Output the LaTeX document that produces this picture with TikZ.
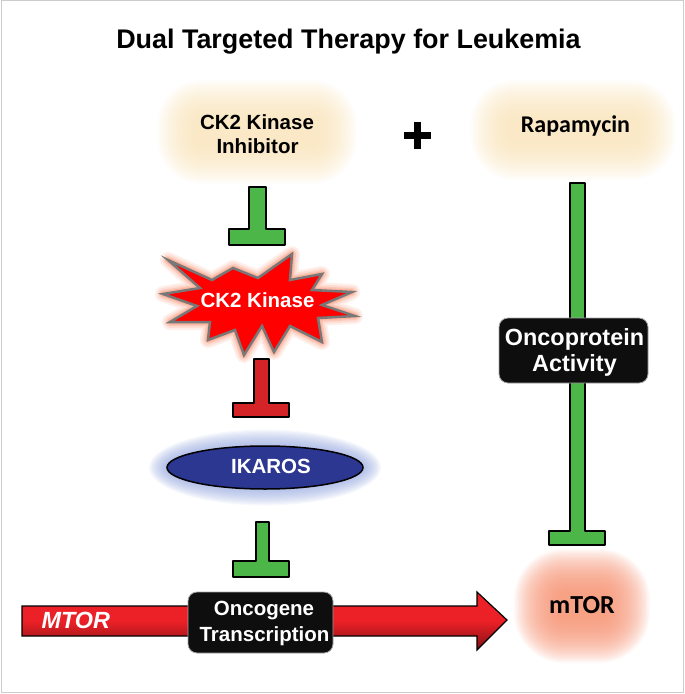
\documentclass[tikz,border=0pt]{standalone}
\usepackage{fontspec}
\setmainfont{Liberation Sans}
\newfontfamily\calib{Carlito}
\usetikzlibrary{shapes.geometric}
\definecolor{tgreen}{RGB}{76,183,72}
\definecolor{tred}{RGB}{213,36,40}
\definecolor{starred}{RGB}{255,0,0}
\definecolor{stargray}{RGB}{120,120,120}
\definecolor{starglow}{RGB}{248,150,120}
\definecolor{ikblue}{RGB}{44,55,145}
\definecolor{ikglow}{RGB}{140,160,220}
\definecolor{beige}{RGB}{249,226,182}
\definecolor{salmon}{RGB}{246,146,114}
\definecolor{arrowred}{RGB}{236,32,39}
\definecolor{boxblack}{RGB}{14,14,14}
% soft glow: cx, cy, halfw, halfh, colour, layers, step, corner radius
\newcommand\glowbox[8]{%
  \foreach \k in {0,...,#6}{%
    \pgfmathsetmacro\gw{#3-\k*#7}%
    \pgfmathsetmacro\gh{#4-\k*#7}%
    \pgfmathsetmacro\gr{max(2,#8-\k*#7)}%
    \fill[#5, fill opacity=0.055, rounded corners=\gr pt] (#1-\gw,#2-\gh) rectangle (#1+\gw,#2+\gh);
  }}
\newcommand\tshape[8]{%
  \filldraw[fill=#8, draw=black, line width=1.2pt, line join=round]
    (#1,#3) -- (#2,#3) -- (#2,#4) -- (#6,#4) -- (#6,#7) -- (#5,#7) -- (#5,#4) -- (#1,#4) -- cycle;}
\tikzset{
  lbl/.style={anchor=base, font=\bfseries\fontsize{20.5}{24}\selectfont},
  wlbl/.style={lbl, text=white},
  blackbox/.style={draw=gray!70, line width=0.8pt, fill=boxblack, rounded corners=9pt, inner sep=0pt},
}
\begin{document}
\begin{tikzpicture}[x=1pt,y=-1pt]
\useasboundingbox (0,0) rectangle (685,694);
\draw[gray!40, line width=1pt] (1,0.5) rectangle (683.5,692.5);

% title
\node[anchor=base, font=\bfseries\fontsize{26.9}{31}\selectfont] (title) at (348.5,48) {Dual Targeted Therapy for Leukemia};

% CK2 kinase inhibitor
\glowbox{257}{132}{100}{52}{beige}{26}{1.5}{45}
\node[lbl] (inh1) at (257,129) {CK2 Kinase};
\node[lbl] (inh2) at (257.5,153) {Inhibitor};

% plus
\coordinate (plusc) at (417.5,135.5);
\draw[line width=7pt] ([xshift=-13.5pt]plusc) -- ([xshift=13.5pt]plusc);
\draw[line width=7pt] ([yshift=-13.5pt]plusc) -- ([yshift=13.5pt]plusc);

% Rapamycin
\glowbox{573}{130}{103}{50}{beige}{26}{1.5}{45}
\node[anchor=base, font=\calib\bfseries\fontsize{24}{28}\selectfont] (rapa) at (575.5,132) {Rapamycin};

% green T under inhibitor
\tshape{249}{266}{187}{229}{229}{285}{245}{tgreen}

% star CK2 kinase
\def\starpath{(168,260) -- (212,280) -- (233,268) -- (258,278) -- (292,254) -- (290,280) -- (322,274) -- (312,290) -- (352,292) -- (322,305) -- (355,316) -- (318,318) -- (322,342) -- (290,326) -- (274,352) -- (262,326) -- (244,355) -- (235,330) -- (208,340) -- (210,322) -- (170,322) -- (197,306) -- (163,294) -- (200,288) -- cycle}
\foreach \w/\o in {16/0.15,12/0.2,8/0.3,5/0.4}{
  \draw[starglow, line width=\w pt, line join=round, opacity=\o] \starpath;
}
\filldraw[fill=starred, draw=stargray, line width=2.5pt, line join=miter] \starpath;
\coordinate (ck2) at (258,300);
\node[wlbl] (ck2t) at (257.5,307) {CK2 Kinase};

% red T
\tshape{254}{269}{359}{403}{233}{289}{417}{tred}

% IKAROS
\foreach \k in {0,...,13}{
  \pgfmathsetmacro\ex{116-\k*1.3}
  \pgfmathsetmacro\ey{38-\k*1.2}
  \fill[ikglow, fill opacity=0.07] (265,467.5) ellipse [x radius=\ex pt, y radius=\ey pt];
}
\node[ellipse, draw=black, line width=1.5pt, fill=ikblue, minimum width=196pt, minimum height=43pt, inner sep=0pt] (ikaros) at (265,467.5) {};
\node[wlbl] (ikt) at (271,473) {IKAROS};

% green T under IKAROS
\tshape{256}{269}{522}{561}{233}{289}{577}{tgreen}

% MTOR arrow
\shade[top color=arrowred, bottom color=arrowred!55!black, middle color=arrowred]
  (22,606) -- (477,606) -- (477,592) -- (507,620) -- (477,650) -- (477,636) -- (22,636) -- cycle;
\draw[black, line width=1.2pt, line join=miter]
  (22,606) -- (477,606) -- (477,592) -- (507,620) -- (477,650) -- (477,636) -- (22,636) -- cycle;
\node[anchor=base west, text=white, font=\bfseries\itshape\fontsize{23.4}{27}\selectfont] (mtorg) at (38,628) {MTOR};

\node[blackbox, minimum width=145pt, minimum height=61pt] (onco) at (260.5,622.5) {};
\node[wlbl] (onco1) at (264,615) {Oncogene};
\node[wlbl] (onco2) at (264.5,641.5) {Transcription};

% right green T
\tshape{570}{585}{183}{531}{549}{605}{545}{tgreen}
\node[blackbox, minimum width=149pt, minimum height=65pt] (oprot) at (573.5,350.5) {};
\node[wlbl, font=\bfseries\fontsize{23.4}{27}\selectfont] (op1) at (574.5,345) {Oncoprotein};
\node[wlbl, font=\bfseries\fontsize{23.4}{27}\selectfont] (op2) at (574.5,371.5) {Activity};

% mTOR
\glowbox{582}{606}{68}{57}{salmon}{34}{1.3}{50}
\node[anchor=base, font=\calib\bfseries\fontsize{26}{30}\selectfont] (mtorp) at (582,613) {mTOR};
\end{tikzpicture}
\end{document}
